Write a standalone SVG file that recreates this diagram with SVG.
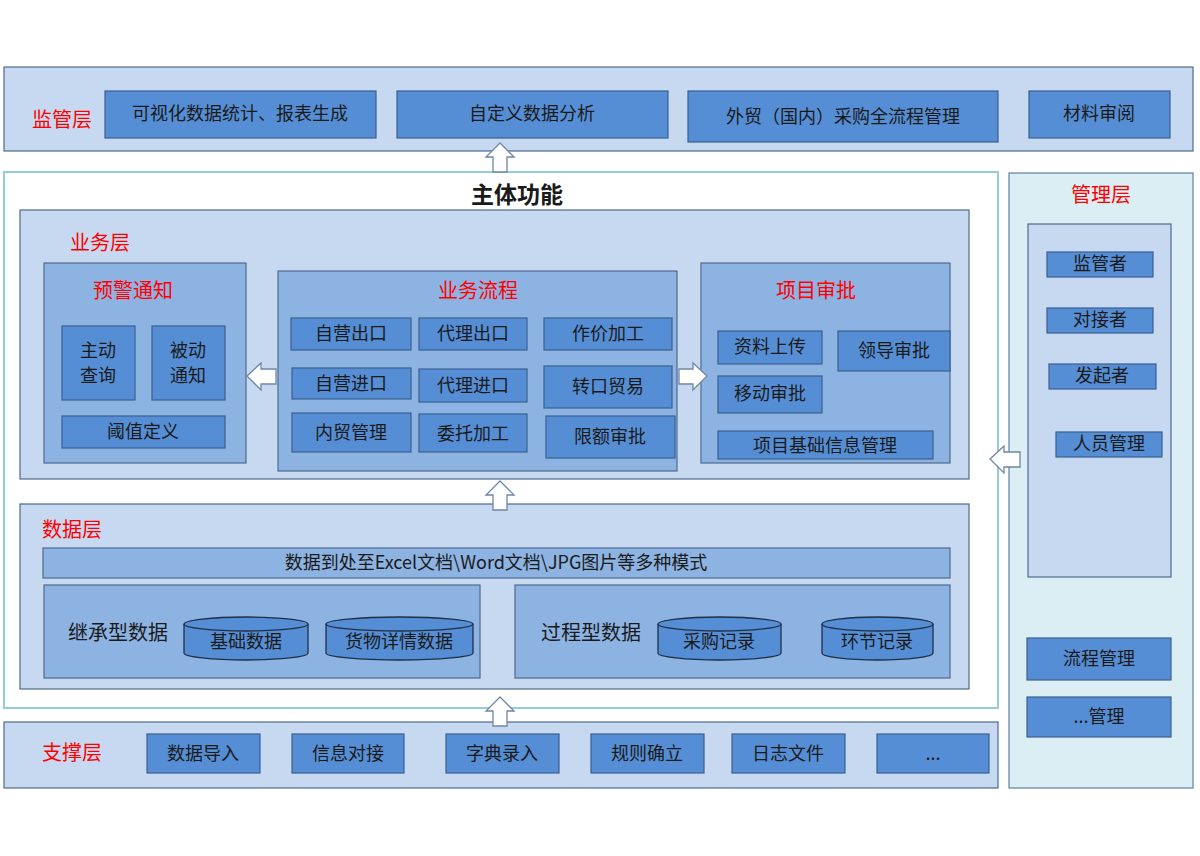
<svg xmlns="http://www.w3.org/2000/svg" width="1200" height="856" viewBox="0 0 1200 856">
<style>
text{font-family:"Noto Sans CJK SC","Microsoft YaHei",sans-serif;fill:#1a1a1a;font-size:18px;text-anchor:middle;dominant-baseline:central;transform:translate(0px,-2px)}
.layer{fill:#c6d9f1;stroke:#4f6a8f;stroke-width:1.2}
.mid{fill:#8db3e2;stroke:#4f6a8f;stroke-width:1.2}
.box{fill:#558ed5;stroke:#3b5f8f;stroke-width:1.2}
.red{fill:#ff0000;font-size:20px}
.redl{fill:#ff0000;font-size:20px;text-anchor:start}
.cyl{fill:#558ed5;stroke:#1f2f45;stroke-width:1.3}
.arr{fill:#ffffff;stroke:#6f86a6;stroke-width:1.3}
</style>
<rect width="1200" height="856" fill="#ffffff"/>

<g id="supervision-layer">
<rect class="layer" x="4" y="67" width="1189" height="84"/>
<text class="red" x="62" y="120">监管层</text>
<g id="n-visual"><rect class="box" x="105" y="91" width="271" height="47"/><text x="240" y="114">可视化数据统计、报表生成</text></g>
<g id="n-custom"><rect class="box" x="397" y="91" width="271" height="47"/><text x="532" y="114">自定义数据分析</text></g>
<g id="n-trade"><rect class="box" x="688" y="91" width="310" height="51"/><text x="843" y="117">外贸（国内）采购全流程管理</text></g>
<g id="n-material"><rect class="box" x="1029" y="91" width="141" height="47"/><text x="1099" y="114">材料审阅</text></g>
</g>

<g id="main-frame">
<rect x="4" y="172" width="994" height="536" fill="#ffffff" stroke="#92cddc" stroke-width="2"/>
<text x="517" y="195" style="font-size:23px;font-weight:bold">主体功能</text>
</g>

<g id="business-layer">
<rect class="layer" x="20" y="210" width="949" height="269"/>
<text class="red" x="100" y="243">业务层</text>
</g>

<g id="warning">
<rect class="mid" x="44" y="263" width="202" height="200"/>
<text class="red" x="133" y="291">预警通知</text>
<g id="n-active"><rect class="box" x="62" y="326" width="73" height="74"/><text x="98" y="351">主动</text><text x="98" y="376">查询</text></g>
<g id="n-passive"><rect class="box" x="152" y="326" width="73" height="74"/><text x="188" y="351">被动</text><text x="188" y="376">通知</text></g>
<g id="n-threshold"><rect class="box" x="62" y="416" width="163" height="32"/><text x="143" y="432">阈值定义</text></g>
</g>

<g id="process">
<rect class="mid" x="278" y="271" width="399" height="200"/>
<text class="red" x="478" y="291">业务流程</text>
<g id="n-p1"><rect class="box" x="291" y="318" width="120" height="32"/><text x="351" y="334">自营出口</text></g>
<g id="n-p2"><rect class="box" x="419" y="318" width="108" height="32"/><text x="473" y="334">代理出口</text></g>
<g id="n-p3"><rect class="box" x="544" y="318" width="128" height="32"/><text x="608" y="334">作价加工</text></g>
<g id="n-p4"><rect class="box" x="292" y="368" width="119" height="31"/><text x="351" y="384">自营进口</text></g>
<g id="n-p5"><rect class="box" x="419" y="369" width="108" height="33"/><text x="473" y="386">代理进口</text></g>
<g id="n-p6"><rect class="box" x="544" y="366" width="128" height="42"/><text x="608" y="387">转口贸易</text></g>
<g id="n-p7"><rect class="box" x="292" y="413" width="119" height="39"/><text x="351" y="433">内贸管理</text></g>
<g id="n-p8"><rect class="box" x="419" y="414" width="108" height="38"/><text x="473" y="434">委托加工</text></g>
<g id="n-p9"><rect class="box" x="546" y="416" width="129" height="42"/><text x="610" y="437">限额审批</text></g>
</g>

<g id="approval">
<rect class="mid" x="701" y="263" width="249" height="200"/>
<text class="red" x="816" y="291">项目审批</text>
<g id="n-a1"><rect class="box" x="718" y="331" width="104" height="33"/><text x="770" y="347">资料上传</text></g>
<g id="n-a2"><rect class="box" x="838" y="331" width="112" height="40"/><text x="894" y="351">领导审批</text></g>
<g id="n-a3"><rect class="box" x="718" y="376" width="104" height="37"/><text x="770" y="394">移动审批</text></g>
<g id="n-a4"><rect class="box" x="718" y="431" width="215" height="28"/><text x="825" y="446">项目基础信息管理</text></g>
</g>

<g id="data-layer">
<rect class="layer" x="20" y="504" width="949" height="185"/>
<text class="redl" x="42" y="530">数据层</text>
<g id="n-banner"><rect class="mid" x="43" y="548" width="907" height="30"/><text x="496" y="563">数据到处至Excel文档\Word文档\JPG图片等多种模式</text></g>
<g id="inherit">
<rect class="mid" x="44" y="585" width="436" height="93"/>
<text x="118" y="633" style="font-size:20px">继承型数据</text>
<g id="n-basic"><path class="cyl" d="M184,624 L184,653 A62,7 0 0 0 308,653 L308,624"/><ellipse class="cyl" cx="246" cy="624" rx="62" ry="7"/><text x="246" y="642">基础数据</text></g>
<g id="n-goods"><path class="cyl" d="M326,624 L326,653 A73.5,7 0 0 0 473,653 L473,624"/><ellipse class="cyl" cx="399.5" cy="624" rx="73.5" ry="7"/><text x="399" y="642">货物详情数据</text></g>
</g>
<g id="proc-data">
<rect class="mid" x="515" y="585" width="435" height="93"/>
<text x="591" y="633" style="font-size:20px">过程型数据</text>
<g id="n-purchase"><path class="cyl" d="M658,624 L658,653 A61.5,7 0 0 0 781,653 L781,624"/><ellipse class="cyl" cx="719.5" cy="624" rx="61.5" ry="7"/><text x="719" y="642">采购记录</text></g>
<g id="n-link"><path class="cyl" d="M822,624 L822,653 A55.5,7 0 0 0 933,653 L933,624"/><ellipse class="cyl" cx="877.5" cy="624" rx="55.5" ry="7"/><text x="877" y="642">环节记录</text></g>
</g>
</g>

<g id="support-layer">
<rect class="layer" x="4" y="722" width="994" height="66"/>
<text class="redl" x="42" y="753">支撑层</text>
<g id="n-s1"><rect class="box" x="147" y="734" width="113" height="39"/><text x="203" y="754">数据导入</text></g>
<g id="n-s2"><rect class="box" x="292" y="734" width="112" height="39"/><text x="348" y="754">信息对接</text></g>
<g id="n-s3"><rect class="box" x="446" y="734" width="113" height="39"/><text x="502" y="754">字典录入</text></g>
<g id="n-s4"><rect class="box" x="591" y="734" width="113" height="39"/><text x="647" y="754">规则确立</text></g>
<g id="n-s5"><rect class="box" x="732" y="734" width="113" height="39"/><text x="788" y="754">日志文件</text></g>
<g id="n-s6"><rect class="box" x="877" y="734" width="112" height="39"/><text x="933" y="754">...</text></g>
</g>

<g id="management-layer">
<rect x="1009" y="173" width="184" height="615" fill="#dbeef4" stroke="#5f7ea3" stroke-width="1.2"/>
<text class="red" x="1101" y="195">管理层</text>
<rect class="layer" x="1028" y="224" width="143" height="353"/>
<g id="n-m1"><rect class="box" x="1047" y="252" width="106" height="25"/><text x="1100" y="264">监管者</text></g>
<g id="n-m2"><rect class="box" x="1047" y="308" width="106" height="25"/><text x="1100" y="320">对接者</text></g>
<g id="n-m3"><rect class="box" x="1049" y="364" width="107" height="25"/><text x="1102" y="376">发起者</text></g>
<g id="n-m4"><rect class="box" x="1056" y="432" width="106" height="25"/><text x="1109" y="444">人员管理</text></g>
<g id="n-m5"><rect class="box" x="1027" y="638" width="144" height="42"/><text x="1099" y="659">流程管理</text></g>
<g id="n-m6"><rect class="box" x="1027" y="697" width="144" height="40"/><text x="1099" y="717">...管理</text></g>
</g>

<g id="connectors">
<path class="arr" d="M500,143 L514,157 L507,157 L507,172 L493,172 L493,157 L486,157 Z"/>
<path class="arr" d="M500,481 L514,495 L507,495 L507,510 L493,510 L493,495 L486,495 Z"/>
<path class="arr" d="M500,697 L514,711 L507,711 L507,726 L493,726 L493,711 L486,711 Z"/>
<path class="arr" d="M247,376 L261,363 L261,369 L276,369 L276,384 L261,384 L261,390 Z"/>
<path class="arr" d="M707,376 L693,363 L693,369 L679,369 L679,384 L693,384 L693,390 Z"/>
<path class="arr" d="M990,459 L1004,446 L1004,452 L1020,452 L1020,467 L1004,467 L1004,473 Z"/>
</g>
</svg>
